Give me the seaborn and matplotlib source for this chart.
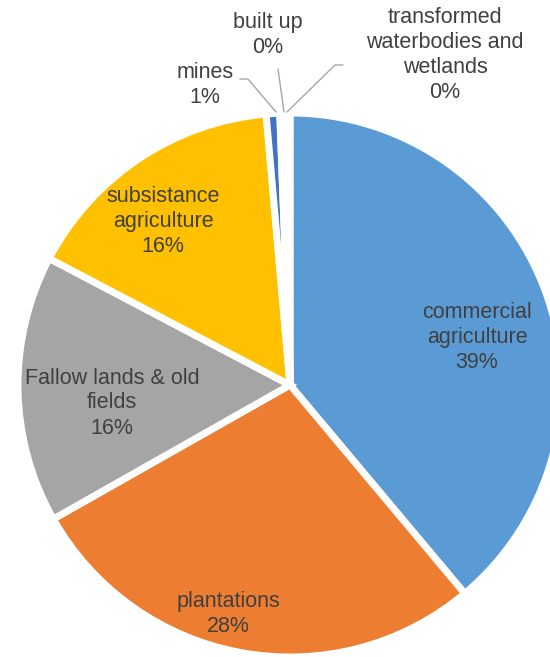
import matplotlib
matplotlib.use("Agg")
import matplotlib.pyplot as plt
import seaborn as sns

# land cover shares (%)
categories = ["commercial\nagriculture", "plantations", "Fallow lands & old\nfields",
              "subsistance\nagriculture", "mines", "built up",
              "transformed\nwaterbodies and\nwetlands"]
shares = [38.9, 27.9, 15.9, 15.9, 0.8, 0.4, 0.2]
pct_labels = ["39%", "28%", "16%", "16%", "1%", "0%", "0%"]
colors = ["#5B9BD5", "#ED7D31", "#A5A5A5", "#FFC000", "#4472C4", "#70AD47", "#264478"]

sns.set_theme(style="white")
plt.rcParams['font.family'] = ['Liberation Sans', 'DejaVu Sans']

W, H = 550, 657
cx, cy, R = 290, 385, 272  # pie centre / radius in pixels


def px(x, y):
    # pixel -> data units (pie radius = 1)
    return (x - cx) / R, (cy - y) / R


fig = plt.figure(figsize=(W / 100, H / 100), dpi=100)
ax = fig.add_axes([0, 0, 1, 1])
ax.pie(shares, colors=colors, startangle=90, counterclock=False, radius=1,
       wedgeprops=dict(edgecolor="white", linewidth=5))
ax.set_xlim(-cx / R, (W - cx) / R)
ax.set_ylim(-(H - cy) / R, cy / R)
ax.set_aspect("equal")
ax.axis("off")

# label centres in pixels
label_pos = [(477, 337), (228, 614), (112, 403), (163, 221), (205, 85), (268, 35), (445, 55)]
for name, pct, (x, y) in zip(categories, pct_labels, label_pos):
    tx, ty = px(x, y)
    ax.text(tx, ty, name + "\n" + pct, ha="center", va="center", fontsize=15.5,
            color="#404040", linespacing=1.25)

# leader lines for the thin slices
leaders = [
    [(240, 79), (248, 79), (276, 112)],
    [(278, 69), (284, 112)],
    [(343, 65), (335, 65), (287, 112)],
]
for pts in leaders:
    xs, ys = zip(*[px(x, y) for x, y in pts])
    ax.plot(xs, ys, color="#A6A6A6", lw=1)

fig.savefig("out.png", dpi=100)
